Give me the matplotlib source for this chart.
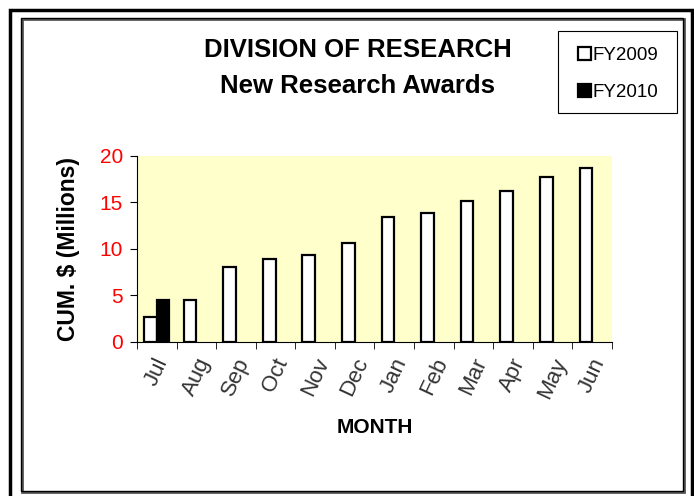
import matplotlib.pyplot as plt
import numpy as np
from matplotlib.patches import Rectangle

plt.rcParams['font.family'] = ['Liberation Sans', 'DejaVu Sans']

# Data
months = ['Jul', 'Aug', 'Sep', 'Oct', 'Nov', 'Dec', 'Jan', 'Feb', 'Mar', 'Apr', 'May', 'Jun']
fy2009 = [2.7, 4.5, 8.1, 8.9, 9.4, 10.6, 13.4, 13.9, 15.2, 16.2, 17.7, 18.7]
fy2010 = [4.5]

fig = plt.figure(figsize=(6.94, 4.96), dpi=100)

# Borders around the figure
fig.patches.append(Rectangle((10/694, -0.02), 682/694, 1.0, transform=fig.transFigure,
                             fill=False, edgecolor='black', linewidth=2.5))
fig.patches.append(Rectangle((22/694, 4/496), 662/694, 473/496, transform=fig.transFigure,
                             fill=False, edgecolor='#555555', linewidth=2.0))
fig.patches.append(Rectangle((21/694, 5/496), 662/694, 473/496, transform=fig.transFigure,
                             fill=False, edgecolor='black', linewidth=1.0))
# legend frame
fig.patches.append(Rectangle((558/694, 1 - 113/496), 119/694, 82/496, transform=fig.transFigure,
                             fill=False, edgecolor='black', linewidth=0.8))

ax = fig.add_axes([0.1974, 0.3105, 0.6844, 0.375])
ax.set_facecolor('#FFFFCC')

x = np.arange(len(months))
w = 0.32
ax.bar(x - w/2, fy2009, width=w, color='white', edgecolor='black', linewidth=1.6, label='FY2009')
ax.bar(x[:len(fy2010)] + w/2, fy2010, width=w, color='black', edgecolor='black', linewidth=1.6,
       label='FY2010')

ax.set_xlim(-0.5, len(months) - 0.5)
ax.set_ylim(0, 20)
ax.set_yticks([0, 5, 10, 15, 20])
ax.tick_params(axis='y', colors='black', labelcolor='red', labelsize=15, length=5, pad=5)

ax.set_xticks(x)
ax.set_xticklabels(months, rotation=65, fontsize=16, color='#333333')
ax.tick_params(axis='x', length=0, pad=9)
ax.set_xticks(np.arange(len(months) + 1) - 0.5, minor=True)
ax.tick_params(axis='x', which='minor', length=5)

for s in ['top', 'right']:
    ax.spines[s].set_visible(False)

ax.set_xlabel('MONTH', fontsize=15, fontweight='bold', labelpad=12)
ax.set_ylabel('CUM. $ (Millions)', fontsize=16.5, fontweight='bold', labelpad=14)

fig.text(0.515, 0.899, 'DIVISION OF RESEARCH', ha='center', va='center', fontsize=18.5, fontweight='bold')
fig.text(0.515, 0.826, 'New Research Awards', ha='center', va='center', fontsize=18.5, fontweight='bold')

leg = ax.legend(loc='upper left', bbox_to_anchor=(578/694, 1 - 47/496), bbox_transform=fig.transFigure,
                frameon=False, fontsize=13.5,
                handlelength=0.7, handleheight=0.7, handletextpad=0.1, labelspacing=1.05,
                borderpad=0, borderaxespad=0)

fig.savefig('out.png', dpi=100)
